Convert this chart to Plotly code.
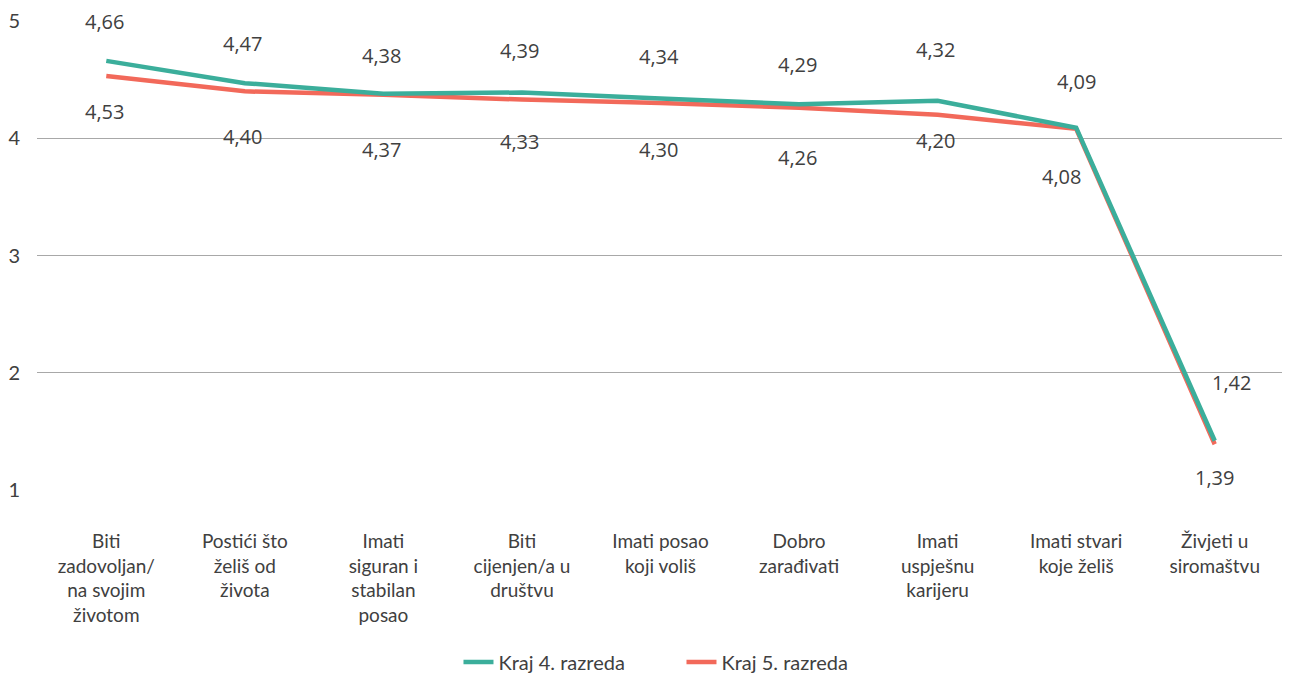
import plotly.graph_objects as go

# Podaci
kategorije = [
    "Biti<br>zadovoljan/<br>na svojim<br>životom",
    "Postići što<br>želiš od<br>života",
    "Imati<br>siguran i<br>stabilan<br>posao",
    "Biti<br>cijenjen/a u<br>društvu",
    "Imati posao<br>koji voliš",
    "Dobro<br>zarađivati",
    "Imati<br>uspješnu<br>karijeru",
    "Imati stvari<br>koje želiš",
    "Živjeti u<br>siromaštvu",
]
kraj_4 = [4.66, 4.47, 4.38, 4.39, 4.34, 4.29, 4.32, 4.09, 1.42]
kraj_5 = [4.53, 4.40, 4.37, 4.33, 4.30, 4.26, 4.20, 4.08, 1.39]
y_ticks = [1, 2, 3, 4, 5]

# pomaci oznaka (px) kako su postavljeni u originalu
pomak_4_y = [39, 40, 38, 42, 42, 40, 51, 46, 58]
pomak_4_x = [-2, -2, -2, -2, -2, -2, -2, 0, 17]
pomak_5_y = [-35, -45, -55, -42, -46, -50, -26, -48, -33]
pomak_5_x = [-2, -2, -2, -2, -2, -2, -2, -15, 0]

TEAL = "#3BAE9B"
RED = "#F2695A"

fig = go.Figure()

fig.add_trace(go.Scatter(
    x=kategorije, y=kraj_5, name="Kraj 5. razreda", mode="lines",
    line=dict(color=RED, width=4.5),
))
fig.add_trace(go.Scatter(
    x=kategorije, y=kraj_4, name="Kraj 4. razreda", mode="lines",
    line=dict(color=TEAL, width=4.5),
))

ann = []
for i, k in enumerate(kategorije):
    ann.append(dict(x=k, y=kraj_4[i], text=f"{kraj_4[i]:.2f}".replace(".", ","),
                    showarrow=False, borderpad=0,
                    yshift=pomak_4_y[i], xshift=pomak_4_x[i]))
    ann.append(dict(x=k, y=kraj_5[i], text=f"{kraj_5[i]:.2f}".replace(".", ","),
                    showarrow=False, borderpad=0,
                    yshift=pomak_5_y[i], xshift=pomak_5_x[i]))

# stranica ima ~8px margine, pa je figura nešto manja od prozora
fig.update_layout(
    width=1282, height=669,
    margin=dict(l=29, r=6, t=13, b=187),
    paper_bgcolor="white", plot_bgcolor="white",
    font=dict(family="Open Sans, sans-serif", size=20, color="#404040"),
    annotations=ann,
    showlegend=True,
    legend=dict(
        orientation="h", traceorder="reversed",
        x=0.338, xanchor="left", yref="container", y=0.0224, yanchor="middle",
        font=dict(family="Lato, sans-serif", size=20, color="#404040"),
        itemwidth=30, entrywidth=178, entrywidthmode="pixels",
    ),
)

fig.update_yaxes(
    range=[1, 5], tickvals=y_ticks, showgrid=True, automargin=False,
    gridcolor="#A8A8A8", gridwidth=1, zeroline=False, showline=False,
    tickfont=dict(family="Lato, sans-serif", size=20, color="#404040"),
    ticklabelstandoff=16,
)
fig.update_xaxes(
    range=[-0.5, 8.5], automargin=False,
    showgrid=False, showline=False, zeroline=False,
    tickfont=dict(family="Lato, sans-serif", size=19, color="#404040"),
    ticklabelstandoff=38,
)

fig.write_html("out.html")
